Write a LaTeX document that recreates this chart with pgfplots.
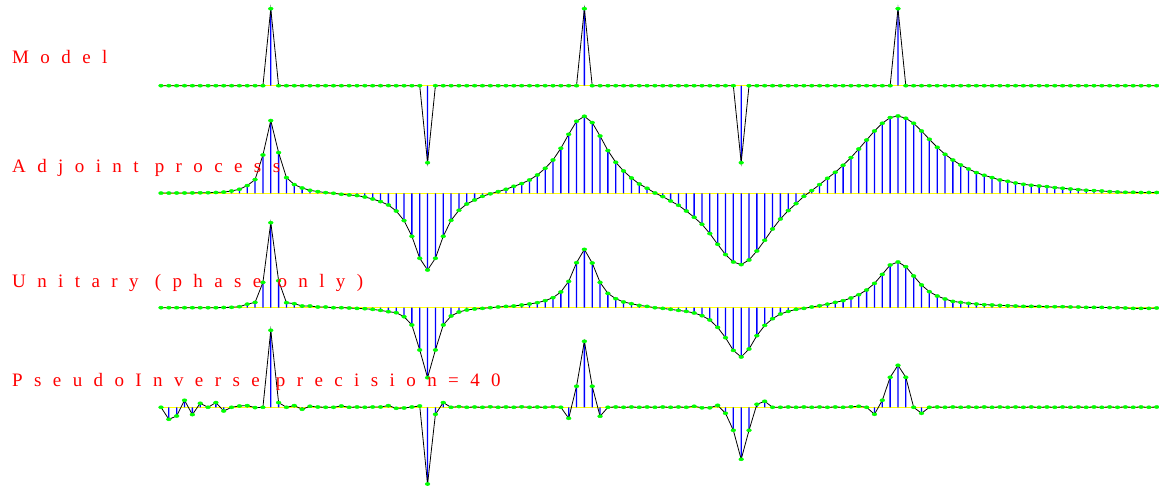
\documentclass[border=0pt]{standalone}
\usepackage{pgfplots}
\usepackage{pgfplotstable}
\pgfplotsset{compat=1.18}
\usepackage{fontspec}
\newfontfamily\lab[LetterSpace=60]{Liberation Serif}
\definecolor{vred}{RGB}{255,0,0}
\definecolor{vblue}{RGB}{0,0,255}
\definecolor{vgreen}{RGB}{0,255,0}
\definecolor{vyellow}{RGB}{255,255,0}
\pgfplotstableread{
i m a u p
0 0 0.2 0 0
1 0 0.2 0 -12
2 0 0.3 0 -8.7
3 0 0.3 0 7
4 0 0.4 0 -7.3
5 0 0.5 0 4
6 0 0.6 0 0
7 0 0.8 0 4.7
8 0 1.2 0.2 -3.7
9 0 2.3 0.4 0
10 0 4 1 1.3
11 0 7.7 3.5 1.7
12 0 13.7 5.3 -0.3
13 0 38.3 25.3 0
14 77 72.7 85 77
15 0 40.7 27 4.7
16 0 15.7 5 0
17 0 8.7 4 1.7
18 0 5.3 1.7 -2
19 0 3 1.7 1
20 0 1.7 0.7 0.3
21 0 0.7 0.7 0
22 0 0 0 0
23 0 -1 0 1.3
24 0 -1.7 -0.3 0
25 0 -2.3 -0.7 0.3
26 0 -3.7 -1 0
27 0 -5.7 -1.7 0.3
28 0 -8.3 -2.7 0.3
29 0 -11.7 -4 1.7
30 0 -17.7 -5 -1
31 0 -27.3 -9 -0.7
32 0 -43 -17.3 0.3
33 0 -65 -42.3 1.3
34 -77 -76.7 -70 -76.7
35 0 -65 -42.3 -7
36 0 -43 -17.3 4.7
37 0 -27 -8.3 0
38 0 -17 -4.3 0.7
39 0 -10.7 -2.3 0
40 0 -6.7 -1.3 0.3
41 0 -3 -0.7 0
42 0 -0.5 0 0.5
43 0 1.7 0.7 0
44 0 4 1.3 0.3
45 0 7 1.7 0
46 0 9.7 2.7 0.5
47 0 13.3 3.7 0
48 0 18.3 5 0.3
49 0 25 7 0
50 0 33.3 10 0.5
51 0 45 15.7 0
52 0 59 26.3 -11
53 0 72 45 21
54 77 77 58.3 66
55 0 70.7 44.7 21
56 0 57.3 25.3 -9
57 0 42.7 14.3 0
58 0 31 9 0.3
59 0 22.3 5.7 0
60 0 15.3 4 0.3
61 0 9.3 2.3 0
62 0 5 1.3 0.3
63 0 0.3 0 0
64 0 -3.3 -0.7 0.3
65 0 -7.7 -1.7 0
66 0 -12 -2.7 0.3
67 0 -17.7 -3.7 0
68 0 -24 -5.3 1
69 0 -31 -8 -0.5
70 0 -40.3 -12.3 -0.5
71 0 -51 -19.7 2
72 0 -61.3 -30 -6
73 0 -68.7 -42.7 -23
74 -77 -71.3 -49.3 -52
75 0 -66.7 -41.3 -23
76 0 -57.7 -28 3
77 0 -47 -17.7 6
78 0 -35.7 -11 0
79 0 -25.7 -6.3 0
80 0 -17.3 -3.7 0.3
81 0 -10.3 -1.7 0
82 0 -3 -0.7 0.3
83 0 2.7 0.7 0
84 0 8.7 2 0.3
85 0 15 3.5 0
86 0 21 5.3 0.3
87 0 28 7 0
88 0 35.7 9.7 0.5
89 0 44.3 13 1
90 0 53.3 17.7 0
91 0 62.3 24.3 -7
92 0 70 33.3 7
93 0 75.7 42.7 30
94 77 77.3 45.7 42
95 0 75 41 30
96 0 70 31.7 0
97 0 62.3 22.7 -6
98 0 54 16 0
99 0 46 11.7 0.3
100 0 39 8.7 0
101 0 33.3 6.3 0.3
102 0 28.3 5.3 0
103 0 24.3 4.3 0.3
104 0 20.7 3.7 0
105 0 18 3 0.3
106 0 15.7 2.7 0
107 0 13.3 2.3 0.3
108 0 12 2 0
109 0 10.3 1.7 0.3
110 0 9 1.3 0
111 0 8 1.3 0.3
112 0 7.3 1.3 0
113 0 6.7 1 0.3
114 0 5.7 1 0
115 0 5 1 0.3
116 0 4.3 0.7 0
117 0 3.7 0.7 0.3
118 0 3 0.3 0
119 0 2.7 0.3 0.3
120 0 2.3 0.3 0
121 0 1.7 0 0.3
122 0 1.3 0 0
123 0 1 -0.3 0.3
124 0 1 -0.7 0
125 0 0.8 -0.7 0.3
126 0 0.8 -0.7 0
127 0 0.8 -0.3 0.3
}\data
\pgfplotsset{
  trace/.style={
    scale only axis, width=995.7pt, height=160pt,
    xmin=0, xmax=127, ymin=-80, ymax=80,
    hide axis, clip=false, anchor=south west},
}
\newcommand{\trace}[1]{%
  \addplot[vyellow, line width=0.8pt, forget plot] coordinates {(0,0) (127,0)};
  \addplot[ybar, bar width=1.3pt, bar shift=0pt, fill=vblue, draw=none] table[x=i,y=#1] {\data};
  \addplot[black, line width=0.8pt, no marks] table[x=i,y=#1] {\data};
  \addplot[only marks, mark=*, mark size=2.1pt, vgreen, mark options={xscale=1.15,yscale=0.75,fill=vgreen,draw=vgreen}] table[x=i,y=#1] {\data};
}
\begin{document}
\begin{tikzpicture}
\useasboundingbox (0,0) rectangle (1159pt,486pt);
\begin{axis}[trace, at={(161pt,320.3pt)}]
\trace{m}
\end{axis}
\begin{axis}[trace, at={(161pt,212.7pt)}]
\trace{a}
\end{axis}
\begin{axis}[trace, at={(161pt,98.3pt)}]
\trace{u}
\end{axis}
\begin{axis}[trace, at={(161pt,-1.3pt)}]
\trace{p}
\end{axis}
\node[anchor=base west, inner sep=0pt, text=vred, font=\lab\fontsize{19}{19}\selectfont] at (12pt,422pt) {Model};
\node[anchor=base west, inner sep=0pt, text=vred, font=\lab\fontsize{19}{19}\selectfont] at (12pt,313pt) {Adjoint process};
\node[anchor=base west, inner sep=0pt, text=vred, font=\lab\fontsize{19}{19}\selectfont] at (12pt,198pt) {Unitary (phase only)};
\node[anchor=base west, inner sep=0pt, text=vred, font=\lab\fontsize{19}{19}\selectfont] at (12pt,99pt) {PseudoInverse precision=40};
\end{tikzpicture}
\end{document}
